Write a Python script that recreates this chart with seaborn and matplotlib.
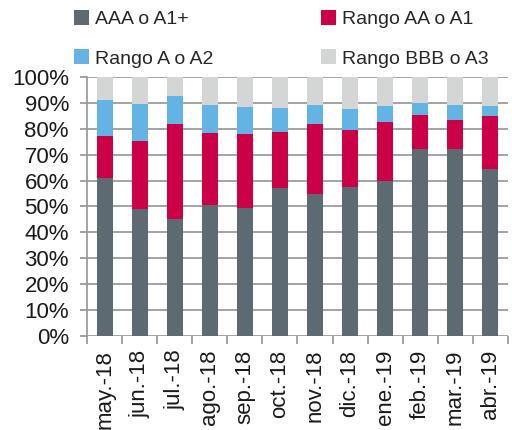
import matplotlib
import numpy as np
import pandas as pd
import seaborn as sns
from matplotlib import pyplot as plt
from matplotlib.patches import Patch
from matplotlib.ticker import PercentFormatter

matplotlib.use("Agg")

months = ["may.-18", "jun.-18", "jul.-18", "ago.-18", "sep.-18", "oct.-18",
          "nov.-18", "dic.-18", "ene.-19", "feb.-19", "mar.-19", "abr.-19"]
aaa = [61.0, 49.0, 45.2, 50.5, 49.4, 57.3, 54.8, 57.4, 59.7, 72.0, 72.3, 64.4]
rango_aa = [16.1, 26.2, 36.8, 28.0, 28.7, 21.6, 27.2, 22.3, 22.8, 13.3, 11.1, 20.4]
rango_a = [13.9, 14.4, 10.5, 10.7, 10.3, 9.1, 7.1, 8.1, 6.2, 4.7, 5.8, 3.9]
rango_bbb = [9.0, 10.4, 7.5, 10.8, 11.6, 12.0, 10.9, 12.2, 11.3, 10.0, 10.8, 11.3]

labels = ["AAA o A1+", "Rango AA o A1", "Rango A o A2", "Rango BBB o A3"]
colors = ["#5e6a72", "#cc0047", "#63b3e5", "#d4d5d5"]

df = pd.DataFrame({"mes": months, "AAA": aaa, "AA": rango_aa, "A": rango_a, "BBB": rango_bbb})
series = ["AAA", "AA", "A", "BBB"]
cum = df[series].cumsum(axis=1)

sns.set_style("white")
plt.rcParams["font.family"] = ["Liberation Sans", "DejaVu Sans"]

fig = plt.figure(figsize=(5.12, 4.30), dpi=100)
ax = fig.add_axes([0.170, 0.219, 0.822, 0.602])

# draw cumulative totals back to front to get stacked bars
for s, c in zip(series[::-1], colors[::-1]):
    sns.barplot(x=df["mes"], y=cum[s], color=c, width=0.46, linewidth=0,
                saturation=1, ax=ax, zorder=3)

ax.set_ylim(0, 100)
ax.set_xlim(-0.5, len(months) - 0.5)
ax.yaxis.set_major_locator(matplotlib.ticker.MultipleLocator(10))
ax.yaxis.set_major_formatter(PercentFormatter(decimals=0))
ax.grid(axis="y", color="#9c9c9c", linewidth=1.3, zorder=0)
ax.set_axisbelow(True)
ax.set_xlabel("")
ax.set_ylabel("")

for side in ["top", "right", "bottom"]:
    ax.spines[side].set_visible(False)
ax.spines["left"].set_color("#9c9c9c")
ax.spines["left"].set_linewidth(1.3)

ax.tick_params(axis="y", length=5, width=1.3, color="#9c9c9c", pad=8,
               labelsize=16, labelcolor="#1a1a1a", left=True)
ax.set_xticks(range(len(months)))
ax.set_xticklabels(months, rotation=90)
ax.set_xticks(np.arange(-0.5, len(months), 1.0), minor=True)
ax.tick_params(axis="x", which="major", length=0, pad=10, labelsize=16,
               labelcolor="#1a1a1a")
ax.tick_params(axis="x", which="minor", length=6, width=1.3, color="#9c9c9c",
               bottom=True)

handles = [Patch(facecolor=c, edgecolor="none") for c in colors]
order = [0, 2, 1, 3]
fig.legend([handles[i] for i in order], [labels[i] for i in order],
           ncol=2, loc="upper left", bbox_to_anchor=(0.11, 1.018),
           frameon=False, fontsize=14, handlelength=0.8, handleheight=0.8,
           handletextpad=0.3, labelspacing=1.1, columnspacing=5.5)

fig.savefig("out.png", dpi=100)
plt.close(fig)
